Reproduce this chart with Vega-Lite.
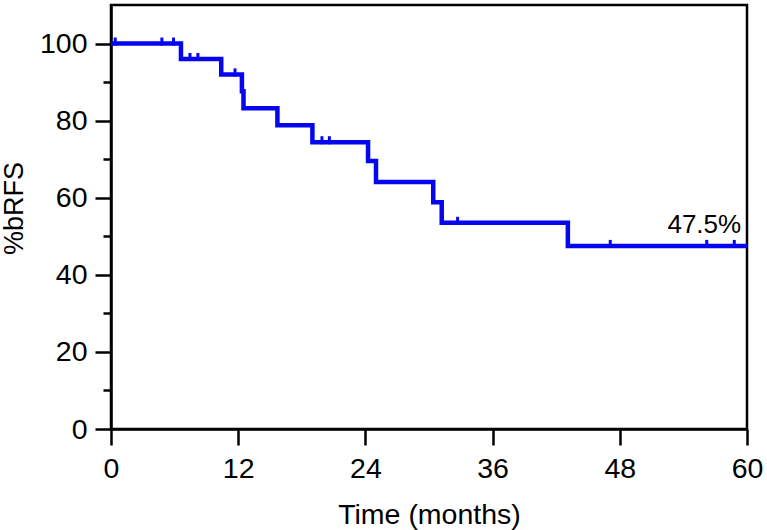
{
  "$schema": "https://vega.github.io/schema/vega-lite/v6.json",
  "width": 636,
  "height": 424,
  "autosize": {"type": "none"},
  "padding": {"left": 111, "top": 5, "right": 20, "bottom": 101},
  "background": "white",
  "config": {
    "view": {"stroke": "black", "strokeWidth": 2.5},
    "font": "Liberation Sans",
    "axis": {
      "grid": false,
      "domainColor": "black",
      "domainWidth": 2.5,
      "tickColor": "black",
      "tickWidth": 2.5,
      "labelColor": "black",
      "titleColor": "black",
      "labelFont": "Liberation Sans",
      "titleFont": "Liberation Sans",
      "labelFontWeight": "normal",
      "titleFontWeight": "normal"
    }
  },
  "datasets": {
    "curve": [
      {"time": 0, "surv": 100},
      {"time": 6.6, "surv": 96.0},
      {"time": 10.4, "surv": 92.0},
      {"time": 12.35, "surv": 87.6},
      {"time": 12.5, "surv": 83.2},
      {"time": 15.7, "surv": 78.8},
      {"time": 19.0, "surv": 74.4},
      {"time": 24.25, "surv": 69.5},
      {"time": 25.0, "surv": 64.1},
      {"time": 30.4, "surv": 58.8},
      {"time": 31.2, "surv": 53.5},
      {"time": 43.1, "surv": 47.5},
      {"time": 60, "surv": 47.5}
    ],
    "censor": [
      {"time": 0.4, "surv": 100},
      {"time": 4.8, "surv": 100},
      {"time": 5.9, "surv": 100},
      {"time": 7.45, "surv": 96.0},
      {"time": 8.2, "surv": 96.0},
      {"time": 11.7, "surv": 92.0},
      {"time": 19.9, "surv": 74.4},
      {"time": 20.6, "surv": 74.4},
      {"time": 32.7, "surv": 53.5},
      {"time": 47.1, "surv": 47.5},
      {"time": 56.2, "surv": 47.5},
      {"time": 58.8, "surv": 47.5}
    ],
    "note": [
      {"time": 59.45, "surv": 50.85, "label": "47.5%"}
    ]
  },
  "layer": [
    {
      "data": {"name": "curve"},
      "mark": {"type": "line", "interpolate": "step-after", "color": "#0505ee", "strokeWidth": 4.5, "strokeCap": "butt", "strokeJoin": "miter"},
      "encoding": {
        "x": {
          "field": "time", "type": "quantitative",
          "scale": {"domain": [0, 60], "nice": false, "zero": false},
          "axis": {
            "values": [0, 12, 24, 36, 48, 60],
            "tickSize": 16,
            "labelFontSize": 28.5,
            "labelPadding": 9,
            "labelFlush": false,
            "title": "Time (months)",
            "titleFontSize": 28.5,
            "titleBaseline": "alphabetic",
            "titleY": 94,
            "titleX": 318
          }
        },
        "y": {
          "field": "surv", "type": "quantitative",
          "scale": {"domain": [0, 110], "nice": false},
          "axis": {
            "values": [0, 20, 40, 60, 80, 100],
            "tickSize": 16,
            "labelFontSize": 28.5,
            "labelPadding": 8,
            "labelFlush": false,
            "title": "%bRFS",
            "titleFontSize": 27,
            "titleAngle": -90,
            "titleAlign": "center",
            "titleBaseline": "middle",
            "titleX": -97,
            "titleY": 203
          }
        }
      }
    },
    {
      "data": {"name": "censor"},
      "mark": {"type": "tick", "orient": "vertical", "color": "#0505ee", "opacity": 1, "size": 8, "thickness": 3, "yOffset": -2},
      "encoding": {
        "x": {"field": "time", "type": "quantitative"},
        "y": {"field": "surv", "type": "quantitative", "axis": null}
      }
    },
    {
      "data": {"name": "note"},
      "mark": {"type": "text", "align": "right", "baseline": "alphabetic", "fontSize": 26, "font": "Liberation Sans", "color": "black"},
      "encoding": {
        "x": {"field": "time", "type": "quantitative"},
        "y": {
          "field": "surv", "type": "quantitative",
          "axis": {
            "orient": "left",
            "values": [10, 30, 50, 70, 90],
            "tickSize": 8,
            "labels": false,
            "domain": false,
            "title": null
          }
        },
        "text": {"field": "label"}
      }
    }
  ],
  "resolve": {"axis": {"y": "independent"}}
}
